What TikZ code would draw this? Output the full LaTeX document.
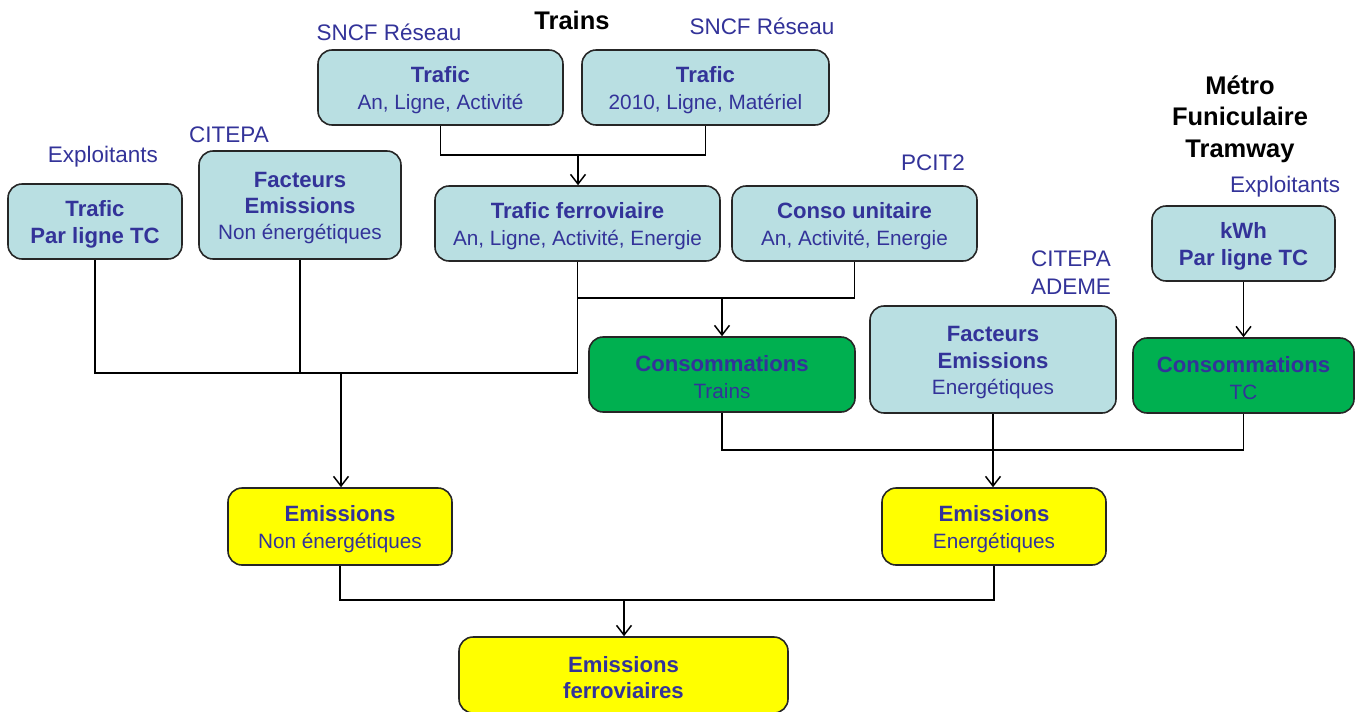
\documentclass[tikz,border=0pt]{standalone}
\usepackage{fontspec}
\setmainfont{Liberation Sans}
\usetikzlibrary{arrows.meta}
\definecolor{lblue}{RGB}{185,223,226}
\definecolor{dgreen}{RGB}{0,176,80}
\definecolor{yel}{RGB}{255,255,0}
\definecolor{tblue}{RGB}{51,51,153}
\newcommand{\hb}[1]{{\fontsize{12.6}{15}\selectfont\bfseries #1}}
\newcommand{\rg}[1]{{\fontsize{11.8}{15}\selectfont #1}}
\newcommand{\up}{\rule{0pt}{12.2pt}}
\begin{document}
\begin{tikzpicture}[x=0.02cm,y=-0.02cm,
 box/.style={draw=black!85, line width=0.9pt, rounded corners=8pt, align=center, text=tblue, inner sep=0pt, font=\fontsize{12}{15}\selectfont},
 sz/.style 2 args={minimum width=#1*0.02cm, minimum height=#2*0.02cm},
 lbox/.style={box, fill=lblue},
 gbox/.style={box, fill=dgreen},
 ybox/.style={box, fill=yel},
 src/.style={text=tblue, font=\fontsize{12.8}{16}\selectfont, inner sep=0pt, align=center},
 ttl/.style={font=\fontsize{14.5}{17.9}\selectfont\bfseries, align=center, inner sep=0pt},
 conn/.style={line width=0.85pt, black},
 arr/.style={conn, -{Straight Barb[length=5.5pt,width=8.5pt]}}]
\fill[white] (0,0) rectangle (1362,711);
\useasboundingbox (0,0) rectangle (1362,711);

% labels
\node[ttl] (trains) at (572,20) {Trains};
\node[src] (s1) at (389,32) {SNCF Réseau};
\node[src] (s2) at (762,26) {SNCF Réseau};
\node[src] (s3) at (103,157) {Exploitants};
\node[src] (s4) at (229,135) {CITEPA};
\node[src] (s5) at (933,163) {PCIT2};
\node[ttl] (metro) at (1240,119) {Métro\\Funiculaire\\Tramway};
\node[src] (s6) at (1285,187) {Exploitants};
\node[src] (s7) at (1071,273) {CITEPA\\ADEME};

% boxes
\node[lbox, sz={245}{75}] (t1) at (440.5,87.5) {\up\hb{Trafic}\\\rg{An, Ligne, Activité}};
\node[lbox, sz={247}{75}] (t2) at (705.5,87.5) {\up\hb{Trafic}\\\rg{2010, Ligne, Matériel}};
\node[lbox, sz={174}{75}] (tp) at (95,221.5) {\up\hb{Trafic}\\\hb{Par ligne TC}};
\node[lbox, sz={202}{108}] (fne) at (300,205) {\up\hb{Facteurs}\\\hb{Emissions}\\\rg{Non énergétiques}};
\node[lbox, sz={285}{75}] (tf) at (577.5,223.5) {\up\hb{Trafic ferroviaire}\\\rg{An, Ligne, Activité, Energie}};
\node[lbox, sz={245}{75}] (cu) at (854.5,223.5) {\up\hb{Conso unitaire}\\\rg{An, Activité, Energie}};
\node[lbox, sz={183}{75}] (kwh) at (1243.5,243.5) {\up\hb{kWh}\\\hb{Par ligne TC}};
\node[lbox, sz={246}{107}] (fe) at (993,359.5) {\up\hb{Facteurs}\\\hb{Emissions}\\\rg{Energétiques}};
\node[gbox, sz={266}{75}] (ct) at (722,374.5) {\up\hb{Consommations}\\\rg{Trains}};
\node[gbox, sz={221}{75}] (ctc) at (1243.5,375.5) {\up\hb{Consommations}\\\rg{TC}};
\node[ybox, sz={224}{77}] (ene) at (340,526.5) {\up\hb{Emissions}\\\rg{Non énergétiques}};
\node[ybox, sz={224}{77}] (ee) at (994,526.5) {\up\hb{Emissions}\\\rg{Energétiques}};
\node[ybox, sz={329}{76}] (ef) at (623.5,675) {\up\hb{Emissions}\\\hb{ferroviaires}};

% junctions
\coordinate (j1) at (578,155);
\coordinate (j2) at (722,298);
\coordinate (j3) at (341,373);
\coordinate (j4) at (993,450);
\coordinate (j5) at (624,600);

% connectors
\draw[conn] (t1.south) |- (j1) -| (t2.south);
\draw[arr] (j1) -- (j1 |- tf.north);
\draw[conn] (tf.south) |- (j2) -| (cu.south);
\draw[arr] (j2) -- (ct.north);
\draw[conn] (tf.south) |- (j3) -| (tp.south);
\draw[conn] (fne.south) -- (fne.south |- j3);
\draw[arr] (j3) -- (j3 |- ene.north);
\draw[conn] (ct.south) |- (j4) -| (ctc.south);
\draw[arr] (fe.south) -- (fe.south |- ee.north);
\draw[arr] (kwh.south) -- (ctc.north);
\draw[conn] (ene.south) |- (j5) -| (ee.south);
\draw[arr] (j5) -- (j5 |- ef.north);
\end{tikzpicture}
\end{document}
